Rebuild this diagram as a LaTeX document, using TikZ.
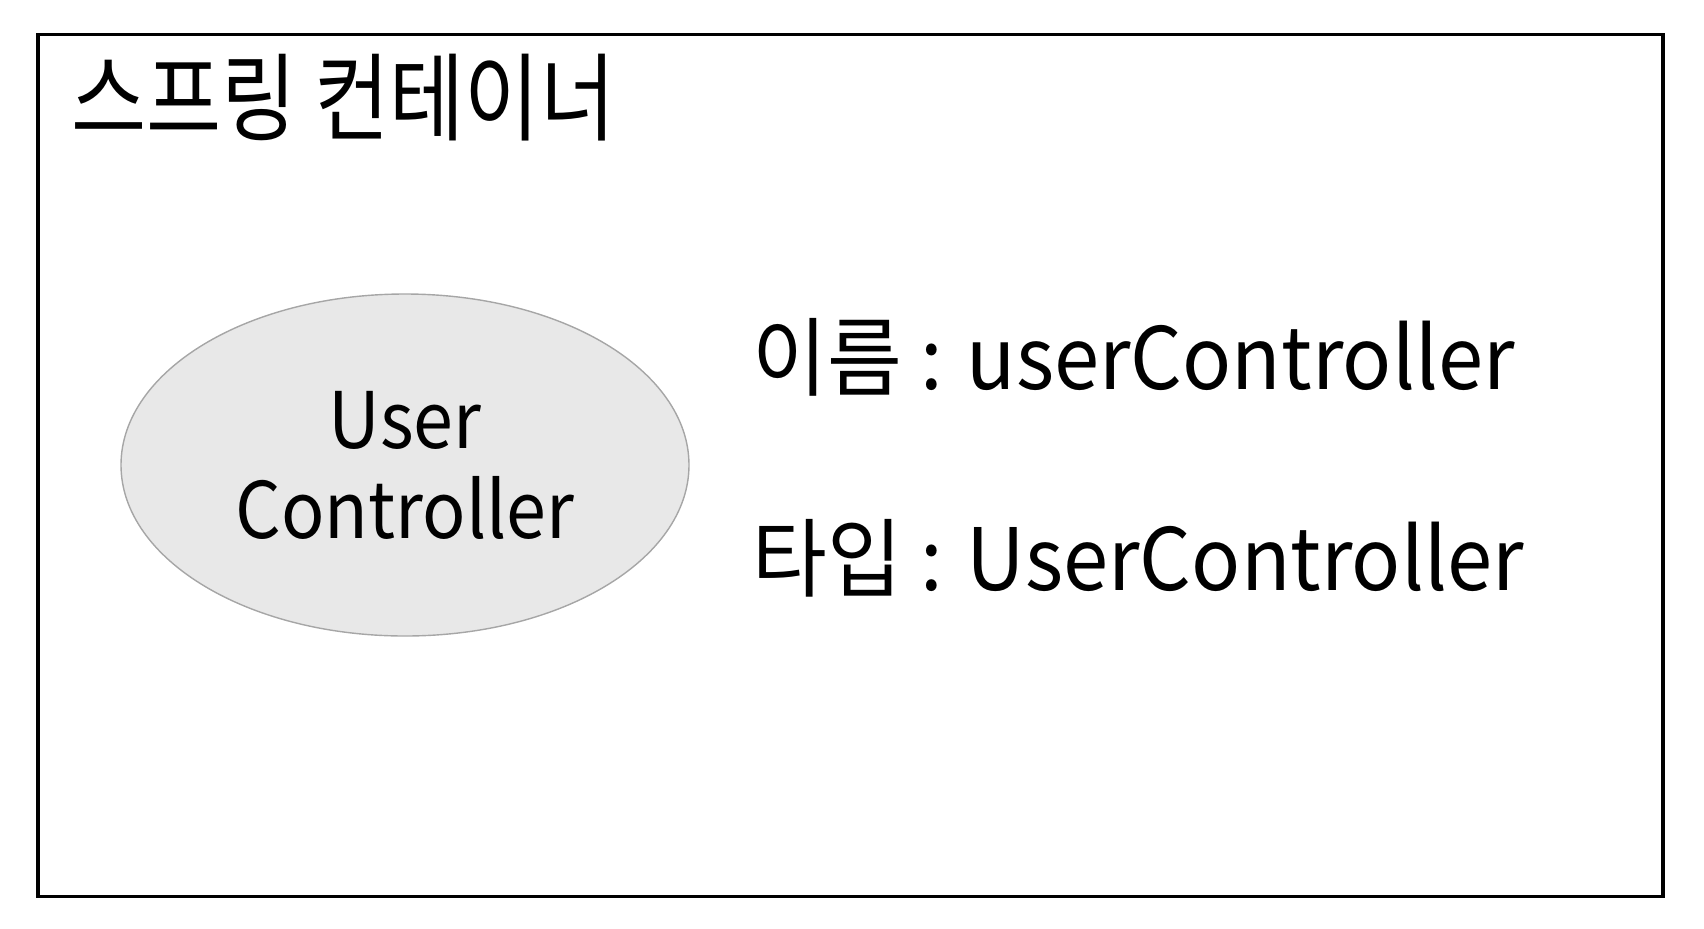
\documentclass[tikz,border=0pt]{standalone}
\usepackage{fontspec}
\setmainfont{Noto Sans CJK KR}
\newfontfamily\krtitle[FakeStretch=0.85]{Noto Sans CJK KR}
\newfontfamily\krbean[FakeStretch=0.92]{Noto Sans CJK KR}
\newfontfamily\krinfo[FakeStretch=0.945]{Noto Sans CJK KR}
\usetikzlibrary{shapes.geometric}
\definecolor{ellfill}{HTML}{E8E8E8}
\definecolor{ellline}{HTML}{A6A6A6}
\tikzset{
  container/.style={draw=black, line width=1.8pt},
  bean/.style={ellipse, draw=ellline, fill=ellfill, line width=0.7pt, minimum width=284pt, minimum height=171pt, inner sep=0pt},
  beantext/.style={align=center, font=\krbean\fontsize{39}{45}\selectfont},
  title/.style={anchor=base west, inner sep=0pt, font=\krtitle\fontsize{48}{55}\selectfont},
  info/.style={anchor=base west, inner sep=0pt, font=\krinfo\fontsize{43}{50}\selectfont}
}
\begin{document}
\begin{tikzpicture}[x=0.5pt, y=-0.5pt]
\useasboundingbox (0,0) rectangle (1704,928);
\node[container, minimum width=812.5pt, minimum height=431pt, inner sep=0pt] (box) at (850.5,465.5) {};
\node[title] (t) at (71,133) {스프링 컨테이너};
\node[bean] (uc) at (405,465) {};
\node[beantext] (uct) at (405,465) {User\\Controller};
\node[info] (n) at (752,389) {이름 : userController};
\node[info] (ty) at (752,590) {타입 : UserController};
\end{tikzpicture}
\end{document}
